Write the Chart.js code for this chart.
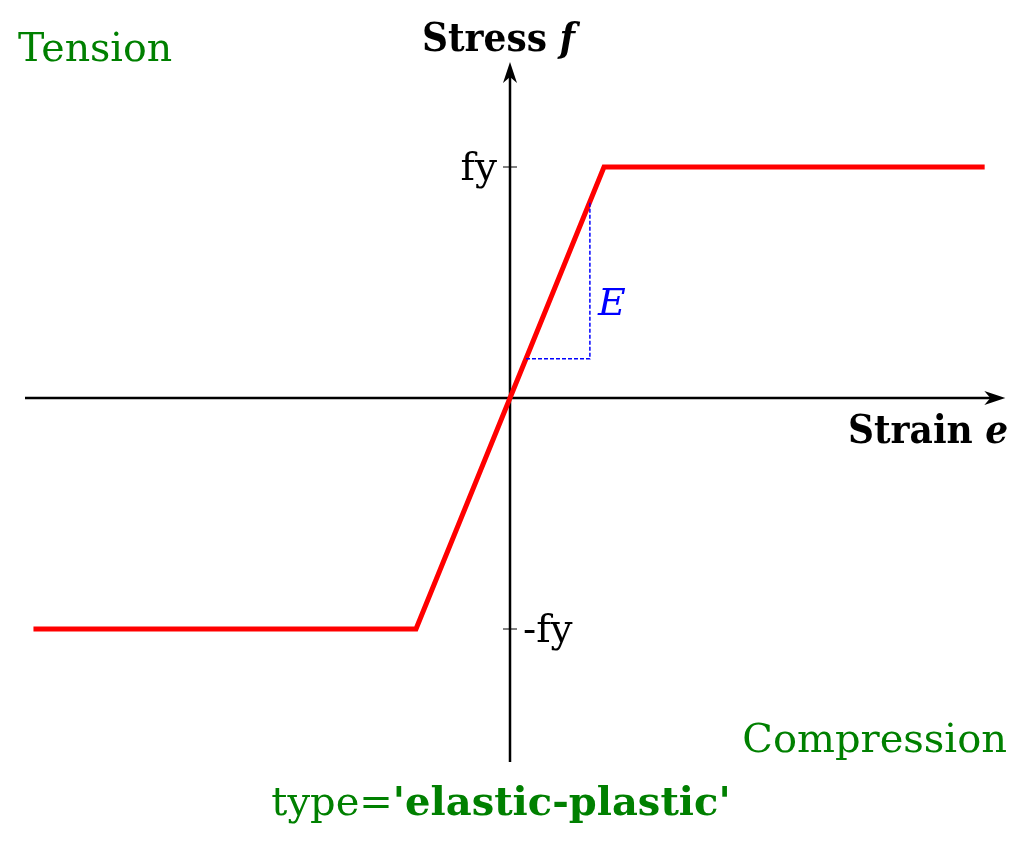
<!DOCTYPE html>
<html>
<head>
<meta charset="utf-8">
<script src="https://cdn.jsdelivr.net/npm/chart.js@4.4.0/dist/chart.umd.min.js"></script>
<style>
    html, body { margin: 0; padding: 0; background: #FFFFFF; }
    #wrap { width: 1020px; height: 851px; }
</style>
</head>
<body>
<div id="wrap"><canvas id="stressStrain" width="1020" height="851"></canvas></div>
<script>
// Données : loi élasto-plastique normalisée (fy = 1, ey = 1)
const strain = [-5.07, -1, 1, 5.05];
const stress = [-1, -1, 1, 1];

// Triangle de pente E
const slopeTriX = [0.17, 0.85, 0.85];
const slopeTriY = [0.17, 0.17, 0.85];

// Graduations de l'axe des contraintes
const stressTicks = [1, -1];
const stressTickLabels = ['fy', '-fy'];

// Étendue des axes dessinés (flèches)
const strainAxisRange = [-5.16, 5.27];
const stressAxisRange = [-1.576, 1.455];

const colors = {
    curve: '#FF0000',
    slope: '#0000FF',
    axis: '#000000',
    note: '#008000'
};

const serif = '"DejaVu Serif", serif';

function toPoints(xs, ys) {
    return xs.map((x, i) => ({ x: x, y: ys[i] }));
}

function arrowHead(ctx, x, y, dir) {
    // dir: 'right' ou 'up'
    ctx.save();
    ctx.translate(x, y);
    if (dir === 'up') ctx.rotate(-Math.PI / 2);
    ctx.beginPath();
    ctx.moveTo(0, 0);
    ctx.lineTo(-21, -7);
    ctx.lineTo(-15, 0);
    ctx.lineTo(-21, 7);
    ctx.closePath();
    ctx.fillStyle = colors.axis;
    ctx.fill();
    ctx.restore();
}

// titre d'axe : partie droite + symbole italique
function axisTitle(ctx, word, sym, x, y) {
    ctx.font = 'bold condensed 40px ' + serif;
    const w = ctx.measureText(word + ' ').width;
    ctx.fillText(word + ' ', x, y);
    ctx.font = 'italic bold condensed 40px ' + serif;
    ctx.fillText(sym, x + w, y);
}

const axesPlugin = {
    id: 'axesPlugin',
    beforeDatasetsDraw(chart) {
        const ctx = chart.ctx;
        const sx = chart.scales.x;
        const sy = chart.scales.y;
        const x0 = sx.getPixelForValue(0);
        const y0 = sy.getPixelForValue(0);
        const xa = sx.getPixelForValue(strainAxisRange[0]);
        const xb = sx.getPixelForValue(strainAxisRange[1]);
        const ya = sy.getPixelForValue(stressAxisRange[0]);
        const yb = sy.getPixelForValue(stressAxisRange[1]);

        ctx.save();
        ctx.strokeStyle = colors.axis;
        ctx.lineWidth = 2.5;
        ctx.beginPath();
        ctx.moveTo(xa, y0);
        ctx.lineTo(xb - 14, y0);
        ctx.moveTo(x0, ya);
        ctx.lineTo(x0, yb + 14);
        ctx.stroke();
        arrowHead(ctx, xb, y0, 'right');
        arrowHead(ctx, x0, yb, 'up');

        // petites graduations fy / -fy
        ctx.lineWidth = 1;
        stressTicks.forEach(v => {
            const py = sy.getPixelForValue(v);
            ctx.beginPath();
            ctx.moveTo(x0 - 7, py);
            ctx.lineTo(x0 + 7, py);
            ctx.stroke();
        });
        ctx.restore();
    },
    afterDatasetsDraw(chart) {
        const ctx = chart.ctx;
        const sx = chart.scales.x;
        const sy = chart.scales.y;
        const x0 = sx.getPixelForValue(0);
        const y0 = sy.getPixelForValue(0);

        ctx.save();
        ctx.textBaseline = 'alphabetic';

        // libellés des graduations
        ctx.fillStyle = colors.axis;
        ctx.font = '39px ' + serif;
        stressTicks.forEach((v, i) => {
            const py = sy.getPixelForValue(v) + 13;
            if (v > 0) {
                ctx.textAlign = 'right';
                ctx.fillText(stressTickLabels[i], x0 - 13, py);
            } else {
                ctx.textAlign = 'left';
                ctx.fillText(stressTickLabels[i], x0 + 13, py);
            }
        });

        // titres des axes
        ctx.textAlign = 'left';
        axisTitle(ctx, 'Stress', 'f', 422, 51);
        axisTitle(ctx, 'Strain', 'e', 848, y0 + 45);

        // module E
        ctx.fillStyle = colors.slope;
        ctx.font = 'italic 38px ' + serif;
        ctx.fillText('E', sx.getPixelForValue(slopeTriX[2]) + 8, 315);

        // annotations vertes
        ctx.fillStyle = colors.note;
        ctx.font = '39.5px ' + serif;
        ctx.fillText('Tension', 18, 61);
        ctx.textAlign = 'right';
        ctx.font = '40px ' + serif;
        ctx.fillText('Compression', 1007, 752);

        ctx.textAlign = 'left';
        const t1 = 'type=';
        const t2 = "'elastic-plastic'";
        ctx.font = '40px ' + serif;
        const w1 = ctx.measureText(t1).width;
        ctx.font = 'bold 40px ' + serif;
        const w2 = ctx.measureText(t2).width;
        const start = 501 - (w1 + w2) / 2;
        ctx.font = '40px ' + serif;
        ctx.fillText(t1, start, 815);
        ctx.font = 'bold 40px ' + serif;
        ctx.fillText(t2, start + w1, 815);
        ctx.restore();
    }
};

const ctx = document.getElementById('stressStrain');
new Chart(ctx, {
    type: 'scatter',
    data: {
        datasets: [
            {
                label: 'Slope E',
                data: toPoints(slopeTriX, slopeTriY),
                showLine: true,
                borderColor: colors.slope,
                borderWidth: 1.5,
                borderDash: [4, 2],
                pointRadius: 0,
                fill: false
            },
            {
                label: 'Elastic-plastic',
                data: toPoints(strain, stress),
                showLine: true,
                borderColor: colors.curve,
                borderWidth: 5,
                pointRadius: 0,
                tension: 0,
                fill: false
            }
        ]
    },
    options: {
        responsive: false,
        animation: false,
        layout: { padding: 0 },
        plugins: {
            legend: { display: false },
            tooltip: { enabled: false }
        },
        scales: {
            x: { type: 'linear', display: false, min: -5.426, max: 5.426 },
            y: { type: 'linear', display: false, min: -1.961, max: 1.723 }
        }
    },
    plugins: [axesPlugin]
});
</script>
</body>
</html>
